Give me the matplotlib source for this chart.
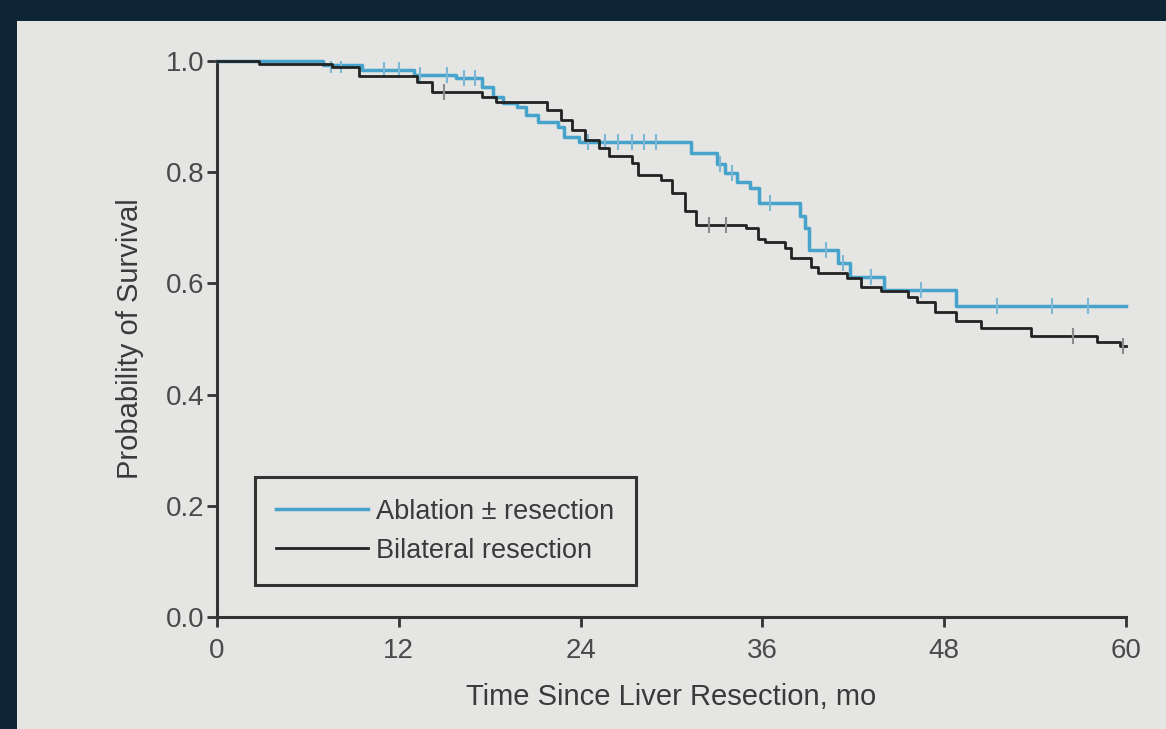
import numpy as np
import matplotlib.pyplot as plt

plt.rcParams['font.family'] = ['Liberation Sans Narrow', 'Liberation Sans', 'DejaVu Sans']

# Kaplan-Meier step data (time in months, survival after the step)
abl_t = [0, 7.0, 9.6, 13.0, 15.8, 17.5, 18.2, 18.9, 19.8, 20.4, 21.2, 22.5, 22.9, 23.9,
         31.3, 33.0, 33.5, 34.3, 35.2, 35.8, 38.5, 38.8, 39.1, 41.0, 41.8, 44.0, 48.8, 60]
abl_s = [1.0, 0.993, 0.983, 0.975, 0.969, 0.953, 0.935, 0.924, 0.917, 0.903, 0.890, 0.881, 0.863, 0.854,
         0.834, 0.815, 0.798, 0.783, 0.771, 0.744, 0.722, 0.700, 0.660, 0.636, 0.611, 0.589, 0.559, 0.559]
abl_cens = [7.5, 8.2, 11.0, 12.0, 13.4, 15.2, 16.3, 17.0, 24.5, 25.6, 26.5, 27.4, 28.2, 29.0,
            33.2, 34.0, 36.5, 40.2, 41.3, 43.2, 46.5, 51.5, 55.1, 57.5]

bil_t = [0, 2.8, 7.6, 9.4, 13.2, 14.2, 17.5, 18.4, 21.8, 22.7, 23.4, 24.3, 25.2, 25.9, 27.4,
         27.8, 29.3, 30.0, 30.9, 31.6, 34.9, 35.7, 36.2, 37.5, 37.9, 39.2, 39.7, 41.6, 42.5,
         43.8, 45.6, 46.2, 47.4, 48.8, 50.4, 53.7, 58.1, 59.6, 60]
bil_s = [1.0, 0.995, 0.990, 0.973, 0.963, 0.944, 0.935, 0.926, 0.912, 0.894, 0.876, 0.858, 0.843, 0.830, 0.816,
         0.795, 0.786, 0.762, 0.730, 0.705, 0.700, 0.680, 0.674, 0.663, 0.645, 0.629, 0.618, 0.609, 0.593,
         0.587, 0.575, 0.566, 0.548, 0.533, 0.519, 0.506, 0.494, 0.488, 0.488]
bil_cens = [15.0, 32.5, 33.6, 56.5, 59.8]

xticks = [0, 12, 24, 36, 48, 60]
yticks = [0.0, 0.2, 0.4, 0.6, 0.8, 1.0]

blue = '#45a3cc'
black = '#222222'
bg = '#e5e5e3'
navy = '#0d2535'


def at(times, steps, t):
    idx = np.searchsorted(times, t, side='right') - 1
    return np.asarray(steps)[idx]


fig = plt.figure(figsize=(11.66, 7.29), dpi=100, facecolor=navy)
# light slide area inside the dark frame
bg_ax = fig.add_axes([17 / 1166, 0, 1, 1 - 21 / 729])
bg_ax.set_facecolor(bg)
bg_ax.set_xticks([])
bg_ax.set_yticks([])
for s in bg_ax.spines.values():
    s.set_visible(False)

ax = fig.add_axes([217 / 1166, 1 - 617 / 729, 909 / 1166, 556 / 729])
ax.set_facecolor('none')

ax.step(abl_t, abl_s, where='post', color=blue, lw=2.5, label='Ablation \u00b1 resection', clip_on=False, zorder=3)
ax.step(bil_t, bil_s, where='post', color=black, lw=2.0, label='Bilateral resection', clip_on=False, zorder=4)
ax.plot(abl_cens, at(abl_t, abl_s, abl_cens), ls='none', marker='|', ms=11, mew=1.5,
        color='#7cb8d4', zorder=3)
ax.plot(bil_cens, at(bil_t, bil_s, bil_cens), ls='none', marker='|', ms=11, mew=1.5,
        color='#8a8a8a', zorder=4)

ax.set_xlim(0, 60)
ax.set_ylim(0, 1)
ax.set_xticks(xticks)
ax.set_yticks(yticks)
ax.set_yticklabels([f'{v:.1f}' for v in yticks])
for s in ['top', 'right']:
    ax.spines[s].set_visible(False)
for s in ['left', 'bottom']:
    ax.spines[s].set_linewidth(2.2)
    ax.spines[s].set_color('#333333')
ax.tick_params(direction='out', length=7, width=2, color='#333333', labelcolor='#4a4a4a', labelsize=20)
ax.tick_params(axis='x', pad=8)
ax.tick_params(axis='y', pad=2)

ax.set_xlabel('Time Since Liver Resection, mo', fontsize=21, color='#3a3a3a', labelpad=14)
ax.set_ylabel('Probability of Survival', fontsize=21, color='#3a3a3a', labelpad=16)

leg = ax.legend(loc='lower left', bbox_to_anchor=(38 / 909, 32 / 556), fontsize=19.5, frameon=True,
                fancybox=False, edgecolor='#333333', facecolor=bg, framealpha=1,
                handlelength=3.4, handletextpad=0.3, labelspacing=0.49, borderpad=0.78,
                borderaxespad=0)
leg.get_frame().set_linewidth(2.2)
for txt in leg.get_texts():
    txt.set_color('#3a3a3a')

fig.savefig('out.png', dpi=100, facecolor=navy)
